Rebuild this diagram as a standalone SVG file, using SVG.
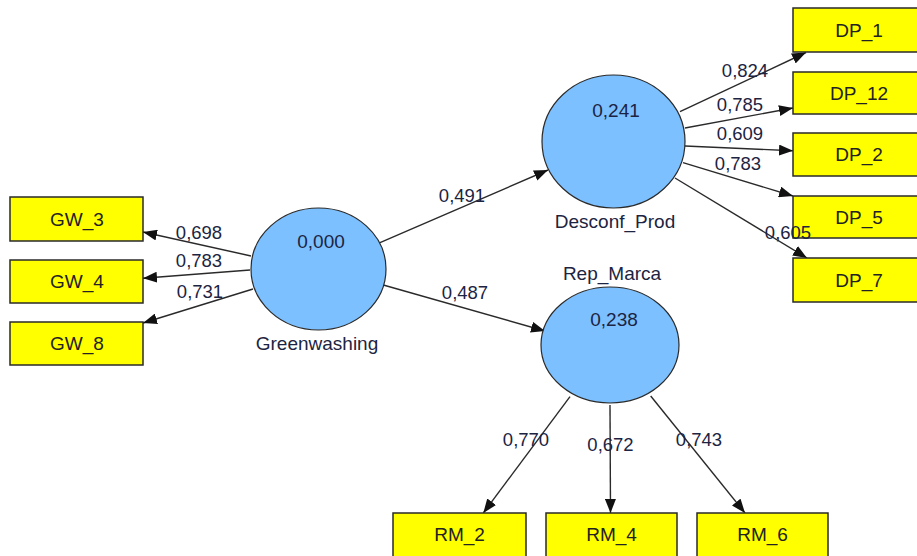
<svg xmlns="http://www.w3.org/2000/svg" width="917" height="556" viewBox="0 0 917 556">
<defs>
<marker id="arr" markerUnits="userSpaceOnUse" markerWidth="15" markerHeight="11" refX="14" refY="5.5" orient="auto" viewBox="0 0 15 11">
<path d="M0,0 L14,5.5 L0,11 z" fill="#111"/>
</marker>
<style>
.lv{fill:#7cc0ff;stroke:#2a2a2a;stroke-width:1.2}
.mv{fill:#ffff00;stroke:#2a2a2a;stroke-width:1.5}
.t{font-family:"Liberation Sans",Arial,sans-serif;font-size:19px;text-anchor:middle;fill:#1c2442}
.bt{font-family:"Liberation Sans",Arial,sans-serif;font-size:19px;text-anchor:middle;fill:#222}
.c{font-family:"Liberation Sans",Arial,sans-serif;font-size:18.5px;text-anchor:middle;fill:#1c2442}
.e{stroke:#2a2a2a;stroke-width:1.4;fill:none;marker-end:url(#arr)}
</style>
</defs>
<rect width="917" height="556" fill="#ffffff"/>
<g id="connectors">
<path class="e" d="M251,256 L143,232"/>
<path class="e" d="M250,270 L143,278.3"/>
<path class="e" d="M253,289 L143,323"/>
<path class="e" d="M380,242.7 L548,170"/>
<path class="e" d="M383.3,285 L545,331"/>
<path class="e" d="M680,111.7 L806,52.5"/>
<path class="e" d="M685,128 L793,108"/>
<path class="e" d="M685,146 L793,150.7"/>
<path class="e" d="M683,162.7 L793,196"/>
<path class="e" d="M675,178 L807,258"/>
<path class="e" d="M570,396.7 L483.3,513"/>
<path class="e" d="M610,405 L610.5,513"/>
<path class="e" d="M650.7,396 L745,513"/>
</g>
<g id="Greenwashing">
<ellipse class="lv" cx="318.5" cy="269" rx="67.5" ry="61"/>
<text class="t" x="321" y="248">0,000</text>
<text class="t" x="317" y="350">Greenwashing</text>
</g>
<g id="Desconf_Prod">
<ellipse class="lv" cx="613.5" cy="141.5" rx="71.5" ry="66.5"/>
<text class="t" x="616" y="117">0,241</text>
<text class="t" x="615" y="228">Desconf_Prod</text>
</g>
<g id="Rep_Marca">
<ellipse class="lv" cx="610" cy="345" rx="69" ry="58"/>
<text class="t" x="614" y="326">0,238</text>
<text class="t" x="612" y="280">Rep_Marca</text>
</g>
<g id="GW_3"><rect class="mv" x="10" y="197" width="133" height="44"/><text class="bt" x="77" y="226">GW_3</text></g>
<g id="GW_4"><rect class="mv" x="10" y="260" width="133" height="43"/><text class="bt" x="77" y="288">GW_4</text></g>
<g id="GW_8"><rect class="mv" x="10" y="322" width="133" height="43"/><text class="bt" x="77" y="350">GW_8</text></g>
<g id="DP_1"><rect class="mv" x="793" y="8" width="133" height="44"/><text class="bt" x="859" y="37">DP_1</text></g>
<g id="DP_12"><rect class="mv" x="793" y="72" width="133" height="42"/><text class="bt" x="859" y="100">DP_12</text></g>
<g id="DP_2"><rect class="mv" x="793" y="133" width="133" height="43"/><text class="bt" x="859" y="161">DP_2</text></g>
<g id="DP_5"><rect class="mv" x="793" y="196" width="133" height="42"/><text class="bt" x="859" y="224">DP_5</text></g>
<g id="DP_7"><rect class="mv" x="793" y="258" width="133" height="44"/><text class="bt" x="859" y="287">DP_7</text></g>
<g id="RM_2"><rect class="mv" x="393" y="513" width="133" height="44"/><text class="bt" x="459.5" y="541">RM_2</text></g>
<g id="RM_4"><rect class="mv" x="546" y="513" width="131" height="44"/><text class="bt" x="611.5" y="541">RM_4</text></g>
<g id="RM_6"><rect class="mv" x="697" y="513" width="131" height="44"/><text class="bt" x="762.5" y="541">RM_6</text></g>
<g id="connector-labels">
<text class="c" x="199" y="239">0,698</text>
<text class="c" x="199" y="267">0,783</text>
<text class="c" x="200" y="298">0,731</text>
<text class="c" x="462" y="202">0,491</text>
<text class="c" x="465" y="299">0,487</text>
<text class="c" x="745" y="77">0,824</text>
<text class="c" x="740" y="111">0,785</text>
<text class="c" x="740" y="140">0,609</text>
<text class="c" x="738" y="170">0,783</text>
<text class="c" x="788" y="239">0,605</text>
<text class="c" x="526" y="446">0,770</text>
<text class="c" x="610.5" y="451">0,672</text>
<text class="c" x="699" y="446">0,743</text>
</g>
</svg>
